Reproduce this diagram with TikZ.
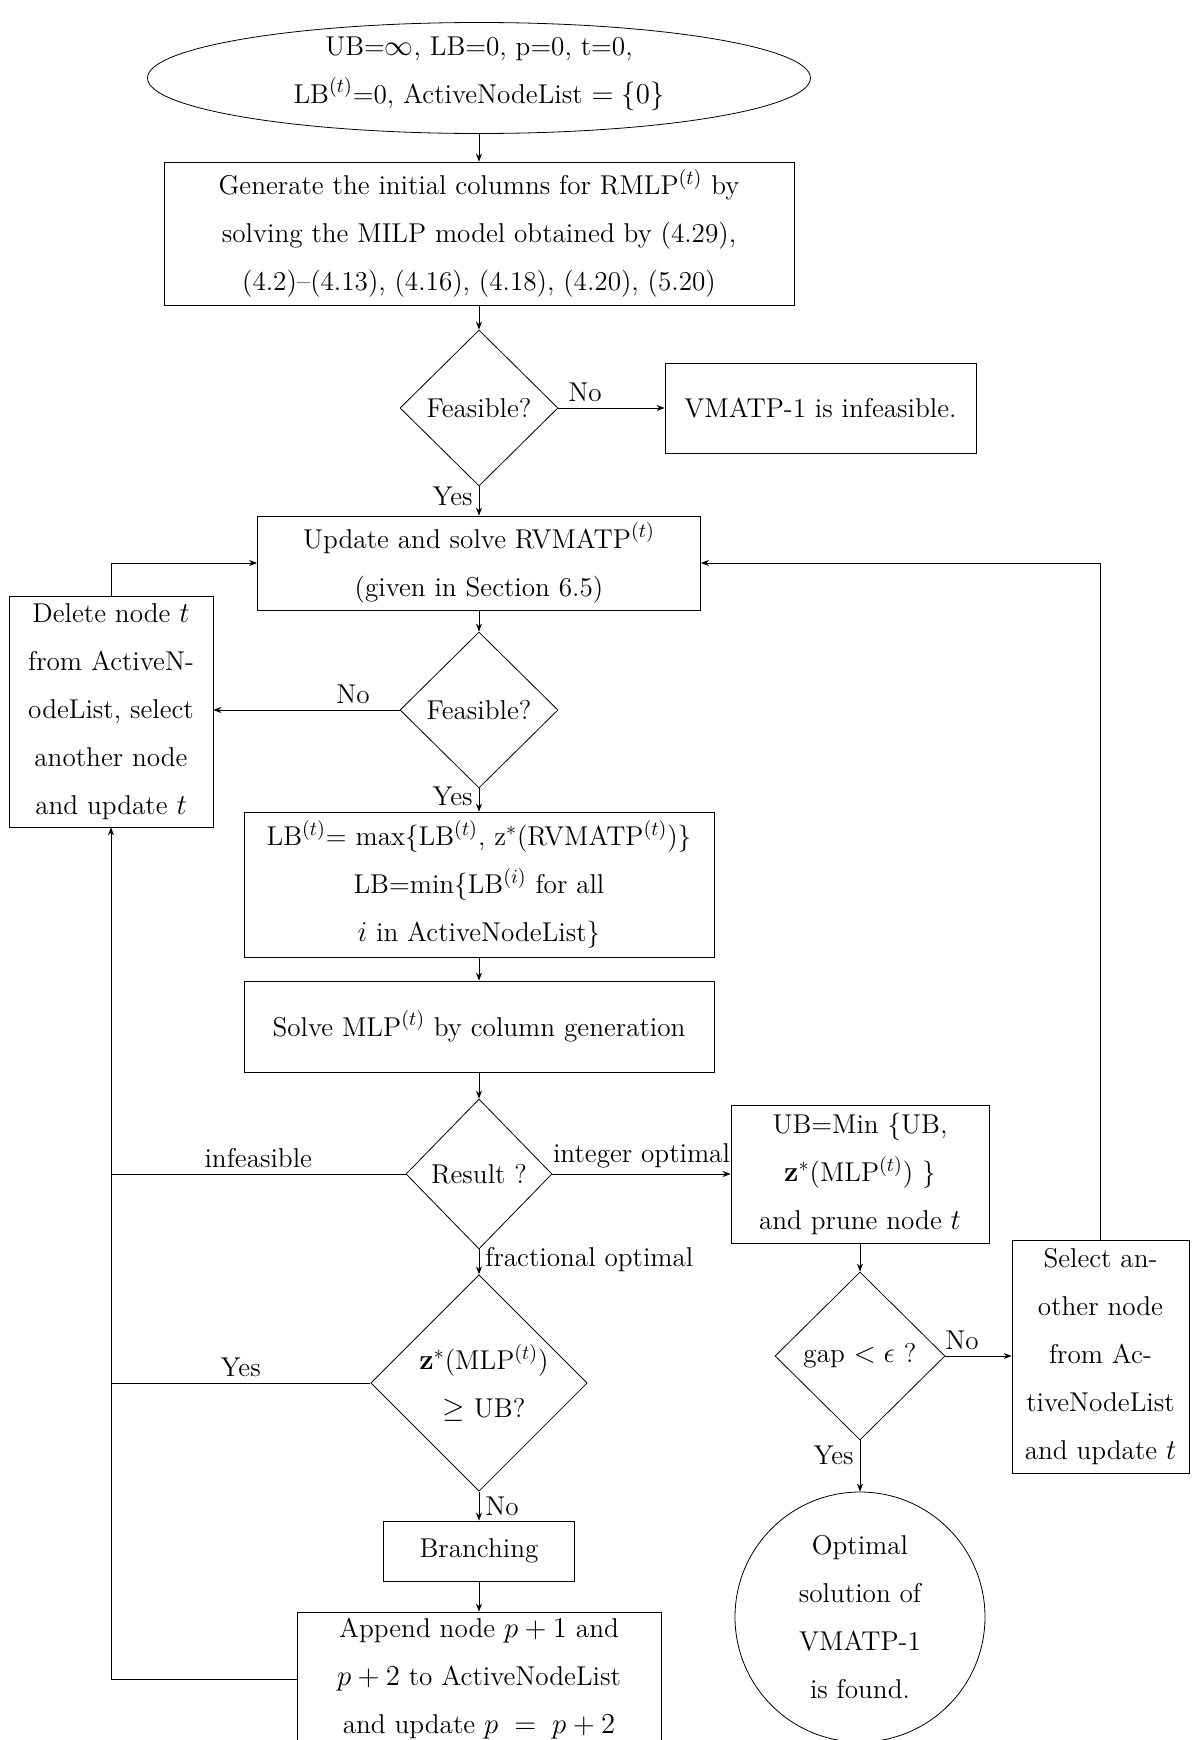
\documentclass[tikz,border=0pt]{standalone}
\usetikzlibrary{shapes.geometric,arrows.meta}
\newcommand\myfs{\fontsize{13.6}{24}\selectfont}
\begin{document}
\begin{tikzpicture}[x=0.5pt,y=-0.5pt,
  every node/.style={font=\myfs},
  box/.style={draw, rectangle, align=center, inner sep=0pt},
  dia/.style={draw, diamond, align=center, inner sep=0pt},
  arr/.style={-{Stealth[length=4pt,width=3pt]}},
  lab/.style={inner sep=3pt}
]
\useasboundingbox (0,0) rectangle (1192,1740);
\node[draw, ellipse, inner sep=0pt, minimum width=331.5pt, minimum height=55.5pt] (start) at (479,78) {};
\node[align=center, inner sep=0pt] (starttext) at (479,73.5)
  {UB=$\infty$, LB=0, p=0, t=0,\\ LB$^{(t)}$=0, ActiveNodeList $=\{0\}$};
\node[box, minimum width=315pt, minimum height=71.5pt] (gen) at (479,233.5)
  {Generate the initial columns for RMLP$^{(t)}$ by\\ solving the MILP model obtained by (4.29),\\ (4.2)--(4.13), (4.16), (4.18), (4.20), (5.20)};
\node[dia, minimum width=79pt, minimum height=78pt] (d1) at (479,408) {Feasible?};
\node[box, minimum width=155.5pt, minimum height=45pt] (inf) at (820.5,408) {VMATP-1 is infeasible.};
\node[box, minimum width=221.5pt, minimum height=47pt] (upd) at (479,563)
  {Update and solve RVMATP$^{(t)}$\\ (given in Section 6.5)};
\node[box, minimum width=102pt, minimum height=115.5pt] (del) at (111,711.5)
  {Delete node $t$\\ from ActiveN-\\ odeList, select\\ another node\\ and update $t$};
\node[dia, minimum width=79pt, minimum height=78pt] (d2) at (479,710) {Feasible?};
\node[box, minimum width=235pt, minimum height=72.5pt] (lb) at (479,884.5)
  {LB$^{(t)}$= max\{LB$^{(t)}$, z$^*$(RVMATP$^{(t)}$)\}\\ LB=min\{LB$^{(i)}$ for all\\ $i$ in ActiveNodeList\}};
\node[box, minimum width=235pt, minimum height=45.5pt] (mlp) at (479,1026.5)
  {Solve MLP$^{(t)}$ by column generation};
\node[dia, minimum width=73pt, minimum height=75pt] (res) at (479,1174) {Result ?};
\node[box, minimum width=129pt, minimum height=69pt] (ub) at (860,1174)
  {UB=Min \{UB,\\ $\mathbf{z}^*$(MLP$^{(t)}$) \}\\ and prune node $t$};
\node[dia, minimum width=107.5pt, minimum height=107pt] (zs) at (479,1383)
  {\hspace*{5pt}$\mathbf{z}^*$(MLP$^{(t)}$)\\ \hspace*{5pt}$\geq$ UB?};
\node[dia, minimum width=85pt, minimum height=84pt] (gap) at (860,1356) {gap $<\epsilon$ ?};
\node[box, minimum width=88.5pt, minimum height=116.5pt] (sel) at (1100.5,1356.5)
  {Select an-\\ other node\\ from Ac-\\ tiveNodeList\\ and update $t$};
\node[draw, circle, align=center, inner sep=0pt, minimum size=125pt] (opt) at (860,1617)
  {Optimal\\ solution of\\ VMATP-1\\ is found.};
\node[box, minimum width=95.5pt, minimum height=30pt] (br) at (479,1551) {Branching};
\node[box, minimum width=182pt, minimum height=67pt] (app) at (479,1679)
  {Append node $p+1$ and\\ $p+2$ to ActiveNodeList\\ and update $p\;=\;p+2$};

\draw[arr] (start) -- (gen);
\draw[arr] (gen) -- (d1);
\draw[arr] (d1) -- node[lab, above, pos=0.25]{No} (inf);
\draw[arr] (d1) -- node[lab, left, pos=0.35]{Yes} (upd);
\draw[arr] (upd) -- (d2);
\draw[arr] (d2.west) -- node[lab, above, pos=0.25]{No} (d2.west -| del.east);
\draw[arr] (d2) -- node[lab, left, pos=0.35]{Yes} (lb);
\draw[arr] (lb) -- (mlp);
\draw[arr] (mlp) -- (res);
\draw (res.west) -- node[lab, above]{infeasible} (res.west -| del.south);
\draw[arr] (res) -- node[lab, above]{integer optimal} (ub);
\draw[arr] (res) -- node[lab, right, pos=0.4]{fractional optimal} (zs);
\draw (zs.west) -- node[lab, above]{Yes} (zs.west -| del.south);
\draw[arr] (zs) -- node[lab, right]{No} (br);
\draw[arr] (br) -- (app);
\draw[arr] (app.west) -| (del.south);
\draw[arr] (del.north) |- (upd.west);
\draw[arr] (sel.north) |- (upd.east);
\draw[arr] (ub) -- (gap);
\draw[arr] (gap.east) -- node[lab, above, pos=0.25]{No} (gap.east -| sel.west);
\draw[arr] (gap) -- node[lab, left, pos=0.3]{Yes} (opt);
\end{tikzpicture}
\end{document}
